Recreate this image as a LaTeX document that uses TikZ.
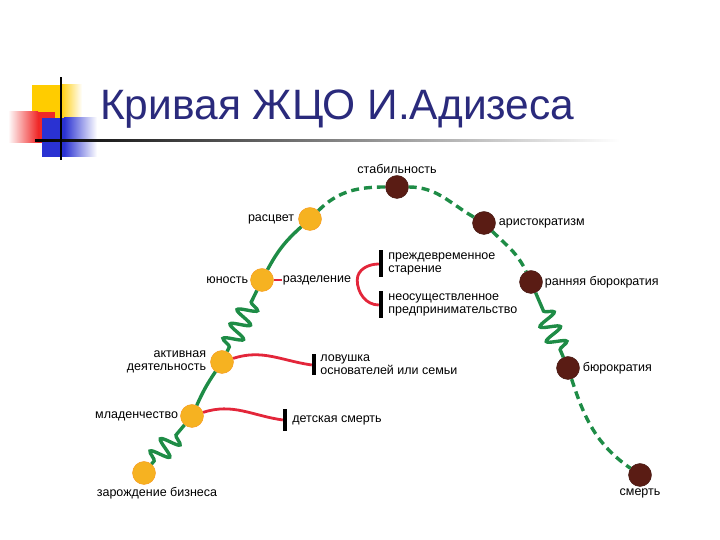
\documentclass[tikz,border=0pt]{standalone}
\usepackage{fontspec}
\setmainfont{Liberation Sans}
\usetikzlibrary{positioning}
\usetikzlibrary{decorations.pathmorphing}
\definecolor{lifegreen}{HTML}{1E8C46}
\definecolor{stageyellow}{HTML}{F6B221}
\definecolor{stagebrown}{HTML}{5A1C14}
\definecolor{trapred}{HTML}{E3263A}
\definecolor{titleblue}{HTML}{2A2A7C}
\definecolor{logoyellow}{HTML}{FFCC00}
\definecolor{logored}{HTML}{F02828}
\definecolor{logoblue}{HTML}{2A32D2}
\tikzset{
	young/.style={
		circle, fill=stageyellow, draw=stageyellow!85!red,
		minimum size=23pt, inner sep=0pt,
	},
	old/.style={
		circle, fill=stagebrown, draw=stagebrown!70!black,
		minimum size=23pt, inner sep=0pt,
	},
	lbl/.style={font=\fontsize{12.5}{13}\selectfont, inner sep=1pt, align=left},
	life/.style={draw=lifegreen, line width=3.4pt},
	lifedash/.style={life, dash pattern=on 8pt off 5pt},
	coil/.style={
		life, decorate,
		decoration={snake, amplitude=9.5pt, segment length=16pt},
	},
	trap/.style={draw=trapred, line width=2.8pt},
	stopbar/.style={fill=black, minimum width=4pt, inner sep=0pt},
}
\begin{document}
\begin{tikzpicture}[x=1pt, y=1pt]
			\useasboundingbox (0,0) rectangle (720,540);
			
			% Header
			\fill[logoyellow] (32,420) rectangle (60,455);
			\shade[left color=logoyellow, right color=white] (60,420) rectangle (82,455);
			\shade[left color=white, right color=logored] (8,397) rectangle (38,428);
			\fill[logored] (38,397) rectangle (55,428);
			\fill[logoblue] (42,383) rectangle (64,422);
			\shade[left color=logoblue, right color=white] (64,383) rectangle (97,422);
			\shade[left color=black, middle color=gray, right color=white] (35,398) rectangle (620,400.5);
			\draw[line width=1.8pt] (61,380) -- (61,463);
			\node[anchor=base west, text=titleblue, inner sep=0pt,
				font=\fontsize{42.5}{48}\selectfont] (title) at (100,420) {Кривая ЖЦО И.Адизеса};
			
			% Stages
			\node[young] (birth) at (144,67) {};
			\node[young] (infancy) at (192,124) {};
			\node[young] (gogo) at (222,178) {};
			\node[young] (youth) at (262,260) {};
			\node[young] (prime) at (310,321) {};
			\node[old] (stable) at (397,353) {};
			\node[old] (aristo) at (484,317) {};
			\node[old] (earlybur) at (531,258) {};
			\node[old] (bur) at (568,172) {};
			\node[old] (death) at (640,65) {};
			
			% Stage labels
			\node[lbl, below=1pt of birth, xshift=13pt] (birthtxt) {зарождение бизнеса};
			\node[lbl, left=1pt of infancy] (infancytxt) {младенчество};
			\node[lbl, left=3pt of gogo, align=right] (gogotxt) {активная\\деятельность};
			\node[lbl, left=1pt of youth] (youthtxt) {юность};
			\node[lbl, left=3pt of prime] (primetxt) {расцвет};
			\node[lbl, above=0pt of stable] (stabletxt) {стабильность};
			\node[lbl, right=2pt of aristo] (aristotxt) {аристократизм};
			\node[lbl, right=1pt of earlybur] (earlyburtxt) {ранняя бюрократия};
			\node[lbl, right=2pt of bur] (burtxt) {бюрократия};
			\node[lbl, below=1pt of death] (deathtxt) {смерть};
			
			% Life curve
			\draw[coil, decoration={pre length=4pt, post length=6pt}] (birth) -- (infancy);
			\draw[life] (infancy) to[bend left=5] (gogo);
			\draw[coil, decoration={pre length=5pt, post length=7pt}] (gogo) -- (youth);
			\draw[life] (youth) to[bend left=10] (prime);
			\draw[lifedash] (prime) to[out=45, in=180] (stable);
			\draw[lifedash] (stable) to[out=0, in=150] (aristo);
			\draw[lifedash] (aristo) to[out=-45, in=115] (earlybur);
			\draw[coil, decoration={pre length=20pt, post length=5pt}] (earlybur) -- (bur);
			\draw[lifedash] (bur) to[out=-72, in=145] (death);
			
			% Traps
			\node[stopbar, minimum height=22pt] (infantbar) at (285,120) {};
			\node[lbl, right=4pt of infantbar] (infanttxt) {детская смерть};
			\draw[trap] (infancy) to[out=18, in=172] (infantbar.west);
			
			\node[stopbar, minimum height=21pt] (founderbar) at (314,175) {};
			\node[lbl, right=3pt of founderbar] (foundertxt) {ловушка\\основателей или семьи};
			\draw[trap] (gogo) to[out=18, in=172] (founderbar.west);
			
			\node[lbl, right=8pt of youth] (split) {разделение};
			\draw[trap] (youth) -- (split);
			\coordinate[right=5pt of split] (fork);
			\node[stopbar, minimum height=27pt] (oldbar) at (381,276) {};
			\node[stopbar, minimum height=27pt] (missbar) at (381,235) {};
			\node[lbl, right=4pt of oldbar] (oldtxt) {преждевременное\\старение};
			\node[lbl, right=4pt of missbar] (misstxt) {неосуществленное\\предпринимательство};
			\draw[trap] (fork) to[out=90, in=180] (oldbar.west);
			\draw[trap] (fork) to[out=-90, in=180] (missbar.west);
		\end{tikzpicture}
\end{document}
